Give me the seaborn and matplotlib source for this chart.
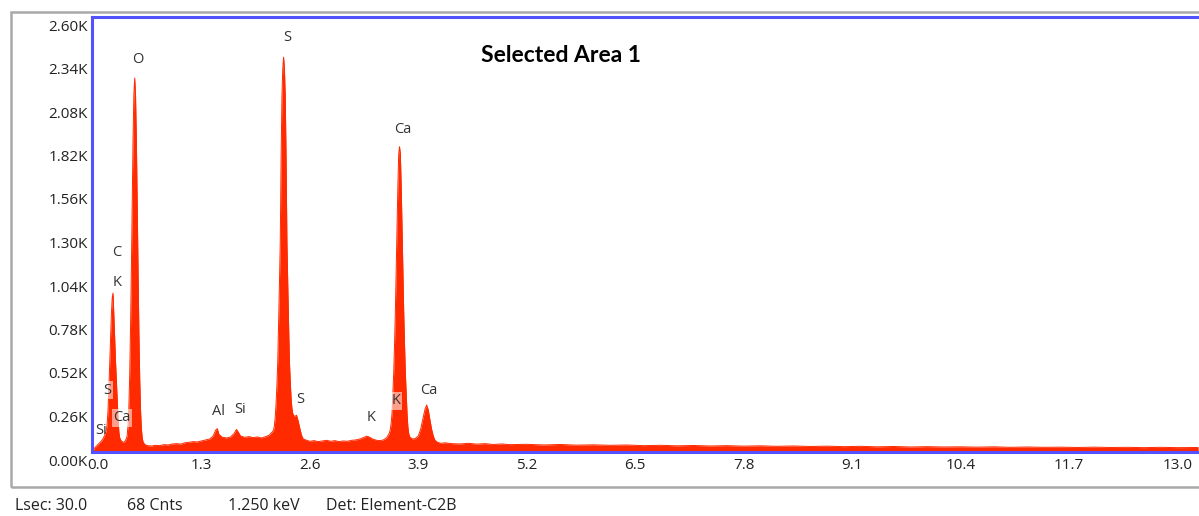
import matplotlib
matplotlib.use("Agg")
import matplotlib.pyplot as plt
import matplotlib.transforms as mtransforms
from matplotlib.patches import Rectangle
import numpy as np
import pandas as pd
import seaborn as sns

# EDS spectrum: energy (keV) and counts
energy_kev = [
    0.00, 0.02, 0.04, 0.06, 0.08, 0.10, 0.12, 0.14, 0.16, 0.17, 0.18, 0.19,
    0.20, 0.21, 0.22, 0.23, 0.24, 0.25, 0.26, 0.27, 0.28, 0.29, 0.30, 0.31,
    0.32, 0.34, 0.36, 0.38, 0.40, 0.41, 0.42, 0.43, 0.44, 0.45, 0.46, 0.47,
    0.48, 0.49, 0.50, 0.51, 0.52, 0.53, 0.54, 0.55, 0.56, 0.57, 0.58, 0.59,
    0.60, 0.62, 0.65, 0.70, 0.75, 0.80, 0.85, 0.90, 0.95, 1.00, 1.05, 1.10,
    1.15, 1.20, 1.25, 1.30, 1.35, 1.40, 1.44, 1.47, 1.49, 1.51, 1.55, 1.60,
    1.65, 1.69, 1.72, 1.74, 1.77, 1.82, 1.87, 1.92, 1.97, 2.02, 2.07, 2.11,
    2.14, 2.165, 2.175, 2.185, 2.195, 2.205, 2.215, 2.225, 2.235, 2.245,
    2.255, 2.265, 2.275, 2.285, 2.295, 2.305, 2.315, 2.325, 2.335, 2.345,
    2.355, 2.365, 2.375, 2.385, 2.395, 2.41, 2.43, 2.44, 2.46, 2.48, 2.50,
    2.52, 2.56, 2.60, 2.65, 2.70, 2.75, 2.80, 2.85, 2.90, 2.95, 3.00, 3.05,
    3.10, 3.15, 3.20, 3.25, 3.28, 3.31, 3.35, 3.40, 3.44, 3.48, 3.52, 3.55,
    3.565, 3.575, 3.585, 3.595, 3.605, 3.615, 3.625, 3.635, 3.645, 3.655,
    3.665, 3.675, 3.685, 3.695, 3.705, 3.715, 3.725, 3.735, 3.745, 3.755,
    3.765, 3.775, 3.785, 3.80, 3.83, 3.86, 3.90, 3.93, 3.96, 3.98, 4.00,
    4.02, 4.04, 4.06, 4.08, 4.10, 4.13, 4.17, 4.22, 4.30, 4.40, 4.50, 4.60,
    4.70, 4.80, 4.90, 5.00, 5.20, 5.40, 5.60, 5.80, 6.00, 6.20, 6.40, 6.60,
    6.80, 7.00, 7.20, 7.40, 7.60, 7.80, 8.00, 8.20, 8.40, 8.60, 8.80, 9.00,
    9.20, 9.40, 9.60, 9.80, 10.00, 10.20, 10.40, 10.60, 10.80, 11.00, 11.20,
    11.40, 11.60, 11.80, 12.00, 12.20, 12.40, 12.60, 12.80, 13.00, 13.25,
]
counts = [
    5, 25, 35, 45, 55, 65, 80, 100, 130, 170, 250, 380,
    520, 680, 820, 920, 950, 820, 680, 540, 430, 320, 200, 120,
    85, 65, 58, 62, 80, 100, 160, 270, 460, 740, 1090, 1490,
    1870, 2140, 2235, 2130, 1860, 1480, 1080, 720, 440, 250, 140, 85,
    60, 45, 38, 36, 40, 38, 44, 42, 48, 50, 47, 55,
    58, 62, 60, 66, 72, 78, 95, 130, 140, 105, 88, 84,
    90, 110, 135, 120, 95, 88, 92, 86, 90, 84, 92, 100,
    115, 130, 160, 210, 290, 400, 540, 760, 1000, 1250,
    1750, 2120, 2290, 2360, 2290, 2120, 1750, 1250, 1000, 760,
    540, 420, 320, 260, 230, 215, 215, 220, 185, 140, 100,
    78, 70, 64, 68, 62, 66, 70, 64, 68, 62, 66, 64,
    70, 72, 78, 88, 95, 90, 78, 70, 68, 72, 85, 110,
    135, 175, 230, 350, 470, 640, 840, 1090, 1350, 1586,
    1780, 1825, 1780, 1586, 1350, 1090, 840, 640, 470, 350,
    230, 150, 110, 88, 78, 80, 95, 140, 210, 255, 281,
    250, 190, 135, 95, 70, 58, 52, 55, 50, 48, 52, 47,
    50, 45, 48, 44, 46, 42, 45, 41, 43, 40, 42, 38,
    40, 37, 39, 36, 38, 35, 37, 34, 36, 33, 35, 32,
    34, 31, 33, 30, 32, 30, 31, 29, 31, 28, 30,
    28, 29, 27, 29, 27, 28, 26, 28, 26, 27,
]

# element markers: (label, energy, counts)
peak_labels = ["Si", "S", "Ca", "C", "K", "O", "Al", "Si", "S", "S", "K", "K", "Ca", "Ca"]
label_energy = [0.095, 0.17, 0.35, 0.29, 0.29, 0.54, 1.50, 1.76, 2.33, 2.49, 3.33, 3.63, 3.72, 4.03]
label_counts = [130, 370, 205, 1195, 1015, 2345, 245, 255, 2475, 315, 205, 305, 1930, 370]
boxed_labels = {1, 2, 11}

x_ticks = [0.0, 1.3, 2.6, 3.9, 5.2, 6.5, 7.8, 9.1, 10.4, 11.7, 13.0]
x_tick_labels = ["0.0", "1.3", "2.6", "3.9", "5.2", "6.5", "7.8", "9.1", "10.4", "11.7", "13.0"]
y_ticks = [0, 260, 520, 780, 1040, 1300, 1560, 1820, 2080, 2340, 2600]
y_tick_labels = ["0.00K", "0.26K", "0.52K", "0.78K", "1.04K", "1.30K", "1.56K",
                 "1.82K", "2.08K", "2.34K", "2.60K"]

footer_items = ["Lsec: 30.0", "68 Cnts", "1.250 keV", "Det: Element-C2B"]
title_text = "Selected Area 1"

sns.set_theme(style="white")
plt.rcParams["font.family"] = ["Open Sans", "DejaVu Sans"]

W, H = 1199, 516
fig = plt.figure(figsize=(W / 100, H / 100), dpi=100)
fig.patch.set_facecolor("white")

# outer panel frame
fig.add_artist(Rectangle((11 / W, 1 - 487 / H), 1.2, (487 - 12) / H,
                         transform=fig.transFigure, fill=False,
                         edgecolor="#a9a9a9", linewidth=1.8))

ax = fig.add_axes([92 / W, 1 - 452 / H, (W - 92) / W, (452 - 17) / H])
ax.set_facecolor("white")

spec = pd.DataFrame({"energy": energy_kev, "counts": counts})
red = "#ff2a00"
ax.fill_between(spec["energy"], spec["counts"], 0, color=red, linewidth=0)
sns.lineplot(data=spec, x="energy", y="counts", ax=ax, color=red,
             linewidth=0.7, estimator=None, sort=True)

ax.set_xlim(-0.012, 13.26)
ax.set_ylim(0, 2600)
ax.set_xlabel("")
ax.set_ylabel("")

blue = "#5252ff"
for side in ["left", "top", "bottom"]:
    ax.spines[side].set_visible(True)
    ax.spines[side].set_color(blue)
    ax.spines[side].set_linewidth(2.2)
ax.spines["right"].set_visible(False)

ax.set_xticks(x_ticks)
ax.set_xticklabels(x_tick_labels)
ax.set_yticks(y_ticks)
ax.set_yticklabels(y_tick_labels)
ax.tick_params(axis="x", direction="in", length=2, width=1.5, color="#2a2acc",
               pad=4, labelsize=11, labelcolor="#222222")
ax.tick_params(axis="y", direction="in", length=0, pad=3,
               labelsize=11, labelcolor="#222222")
shift = mtransforms.ScaledTranslation(0, -0.08, fig.dpi_scale_trans)
for lab in ax.get_yticklabels():
    lab.set_transform(lab.get_transform() + shift)
# first energy label sits just right of the zero-count label
first_x = ax.get_xticklabels()[0]
first_x.set_transform(first_x.get_transform()
                      + mtransforms.ScaledTranslation(0.05, 0, fig.dpi_scale_trans))
ax.grid(False)

for i, (txt, ex, cy) in enumerate(zip(peak_labels, label_energy, label_counts)):
    kw = {}
    if i in boxed_labels:
        kw["bbox"] = dict(facecolor="white", alpha=0.55, edgecolor="none", pad=1.0)
    ax.text(ex, cy, txt, ha="center", va="center", fontsize=10.5,
            color="#333333", **kw)

fig.text(561 / W, 1 - 55 / H, title_text, ha="center", va="center",
         fontsize=16.5, fontweight="bold", color="black",
         family=["Lato", "DejaVu Sans"])

footer_x = [15, 127, 228, 326]
for fx, txt in zip(footer_x, footer_items):
    fig.text(fx / W, 1 - 506 / H, txt, ha="left", va="center",
             fontsize=11.5, color="#222222")

fig.savefig("out.png", dpi=100, facecolor="white")
